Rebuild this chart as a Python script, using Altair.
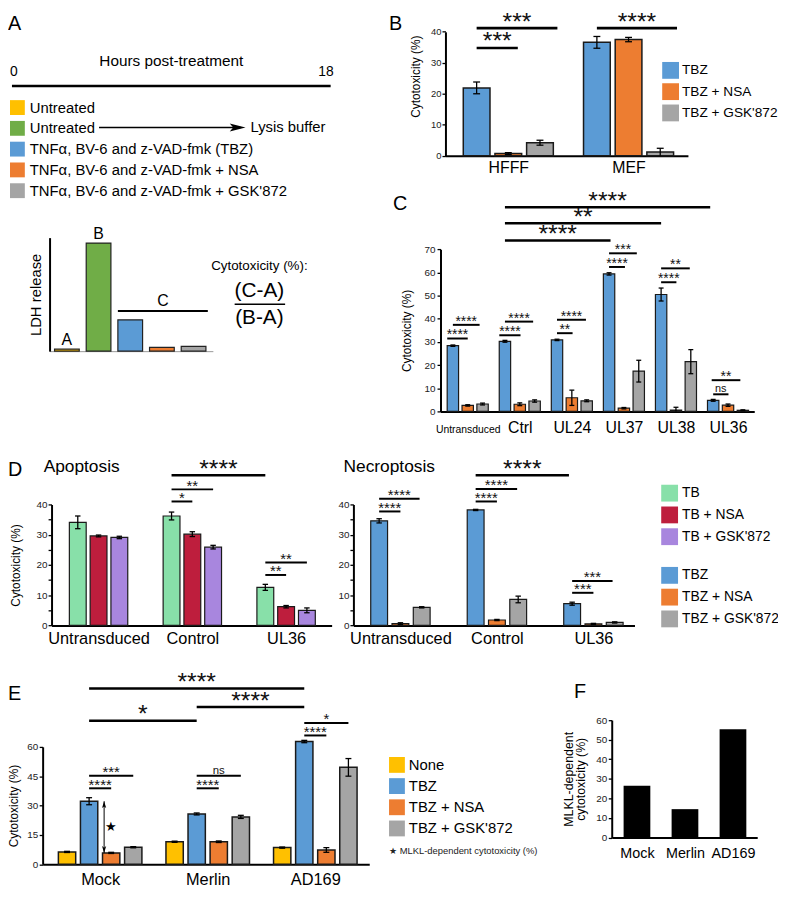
import json
import altair as alt
import pandas as pd

FONT = "Liberation Sans"
W, H = 778, 884
SY, OY = 0.9888, 3.0


def TX(v):
    return v - 8.0


def TY(v):
    return (v - OY) * SY


# ------------------------------------------------------------------ data
A_CONDITIONS = ["Untreated", "Untreated\u200b", "TNFα, BV-6 and z-VAD-fmk (TBZ)",
                "TNFα, BV-6 and z-VAD-fmk + NSA", "TNFα, BV-6 and z-VAD-fmk + GSK'872"]
A_COLORS = ["#FFC000", "#70AD47", "#5B9BD5", "#ED7D31", "#A5A5A5"]
A_LDH = [1.8, 100, 29, 3.5, 4.5]
A_BAR_LABELS = ["A", "B", "", "", ""]
A_HOURS = [0, 18]

TBZ_SERIES = ["TBZ", "TBZ + NSA", "TBZ + GSK'872"]
TBZ_COLORS = ["#5B9BD5", "#ED7D31", "#A5A5A5"]

B_GROUPS = ["HFFF", "MEF"]
B_VALUES = [[21.9, 0.7, 4.2], [36.6, 37.5, 1.2]]
B_ERRORS = [[1.9, 0.3, 0.8], [1.9, 0.7, 1.2]]
B_SIG = [(0, 0, 0, 1.3, 34.8, "***", "big"), (0, 0, 0, 2.55, 41.2, "***", "big"),
         (1, 0, 1, 2.53, 41.2, "****", "big")]

C_GROUPS = ["Untransduced", "Ctrl", "UL24", "UL37", "UL38", "UL36"]
C_VALUES = [[28.4, 2.6, 3.2], [30.3, 3.1, 4.5], [30.9, 5.9, 4.6],
            [59.4, 1.4, 17.4], [50.5, 0.6, 21.5], [4.8, 2.7, 0.5]]
C_ERRORS = [[0.3, 0.3, 0.4], [0.4, 0.6, 0.5], [0.3, 3.3, 0.4],
            [0.5, 0.3, 4.7], [2.8, 1.2, 5.2], [0.4, 0.5, 0.2]]
C_SIG = [(0, -0.38, 0, 1.0, 31.5, "****", "small"), (0, 0, 0, 1.8, 37.4, "****", "small"),
         (1, -0.38, 1, 1.05, 32.9, "****", "small"), (1, 0, 1, 1.9, 38.8, "****", "small"),
         (2, 0, 2, 1.05, 33.8, "**", "small"), (2, 0, 2, 1.95, 39.6, "****", "small"),
         (3, 0, 3, 1.07, 62.4, "****", "small"), (3, 0, 3, 1.87, 68.3, "***", "small"),
         (4, 0, 4, 1.03, 55.8, "****", "small"), (4, 0, 4, 1.93, 61.8, "**", "small"),
         (5, 0, 5, 1.03, 7.4, "ns", "ns"), (5, -0.1, 5, 1.83, 13.5, "**", "small"),
         (1, 0, 3, 0.1, 73.8, "****", "big"), (1, 0, 4, 0, 81.3, "**", "big"),
         (1, 0, 5, -0.2, 88.2, "****", "big")]

D_GROUPS = ["Untransduced", "Control", "UL36"]
TB_SERIES = ["TB", "TB + NSA", "TB + GSK'872"]
TB_COLORS = ["#88E0A9", "#BE1E3D", "#A886DE"]
DL_VALUES = [[34.1, 29.6, 29.1], [36.2, 30.2, 25.9], [12.6, 6.2, 5.0]]
DL_ERRORS = [[2.1, 0.3, 0.4], [1.3, 0.8, 0.6], [1.0, 0.4, 0.8]]
DL_SIG = [(1, 0, 1, 1, 41.0, "*", "small"), (1, 0, 1, 2, 45.0, "**", "small"),
          (1, 0, 2, 0, 49.7, "****", "big"), (2, 0, 2, 1, 16.7, "**", "small"),
          (2, 0, 2, 2, 20.8, "**", "small")]
DR_VALUES = [[34.6, 0.6, 6.0], [38.2, 1.8, 8.6], [7.2, 0.5, 1.0]]
DR_ERRORS = [[0.7, 0.3, 0.2], [0.2, 0.2, 1.1], [0.5, 0.2, 0.2]]
DR_SIG = [(0, 0, 0, 1, 37.7, "****", "small"), (0, 0, 0, 1.9, 41.9, "****", "small"),
          (1, 0, 1, 1, 41.0, "****", "small"), (1, 0, 1, 1.95, 45.1, "****", "small"),
          (1, 0, 2, -0.15, 49.7, "****", "big"), (2, 0, 2, 1, 10.8, "***", "small"),
          (2, 0, 2, 1.9, 14.7, "***", "small")]

E_GROUPS = ["Mock", "Merlin", "AD169"]
E_SERIES = ["None", "TBZ", "TBZ + NSA", "TBZ + GSK'872"]
E_COLORS = ["#FFC000", "#5B9BD5", "#ED7D31", "#A5A5A5"]
E_VALUES = [[6.3, 32.2, 5.8, 8.7], [11.5, 25.7, 11.5, 24.2], [8.5, 62.7, 7.3, 49.5]]
E_ERRORS = [[0.3, 1.8, 0.3, 0.3], [0.3, 0.5, 0.4, 0.8], [0.3, 0.6, 1.2, 4.5]]
E_SIG = [(0, 1, 0, 2, 38.8, "****", "small"), (0, 1, 0, 3, 45.2, "***", "small"),
         (1, 1, 1, 2, 38.8, "****", "small"), (1, 1, 1, 3, 45.2, "ns", "ns"),
         (2, 1, 2, 2, 65.8, "****", "small"), (2, 1, 2, 3, 72.2, "*", "small"),
         (0, 1, 1, 1, 73.3, "*", "big"), (1, 1, 2, 1, 80.3, "****", "big"),
         (0, 1, 2, 1, 89.8, "****", "big")]
E_STAR_VALUE = 19.2
E_MLKL_NOTE = "\u2605 MLKL-dependent cytotoxicity (%)"

F_GROUPS = ["Mock", "Merlin", "AD169"]
F_VALUES = [26.5, 14.5, 55.3]

DUMMY = pd.DataFrame({"d": [0]})


# ------------------------------------------------------------------ helpers
def note(text, x, y, size, align="left", baseline="alphabetic", color="black", angle=0):
    return alt.Chart(DUMMY).mark_text(text=text, fontSize=size, align=align, baseline=baseline,
                                      color=color, angle=angle).encode(
        x=alt.value(TX(x)), y=alt.value(TY(y)))


def note_rule(x1, x2, y, sw):
    return alt.Chart(DUMMY).mark_rule(color="black", strokeWidth=sw).encode(
        x=alt.value(TX(x1)), x2=alt.value(TX(x2)), y=alt.value(TY(y)))


def grouped_panel(groups, series, colors, values, errors, sig, L, legend):
    n = len(series)
    gp = L["gp"]
    bp = L["bp"] / gp
    hw = L["bw"] / 2 / gp
    cw = L["cap"] / 2 / gp

    def pos(g, s):
        return g + (s - (n - 1) / 2) * bp

    xs = alt.Scale(domain=[(L["x0"] - L["g0"]) / gp, (L["x1"] - L["g0"]) / gp],
                   range=[TX(L["x0"]), TX(L["x1"])], nice=False, zero=False)
    ys = alt.Scale(domain=[0, L["ymax"]], range=[TY(L["y0"]), TY(L["ytop"])], nice=False, zero=False)

    rows, caps = [], []
    for gi, g in enumerate(groups):
        for si, s in enumerate(series):
            v, e = values[gi][si], errors[gi][si]
            u = pos(gi, si)
            lo = max(v - e, 0)
            rows.append({"group": g, "series": s, "value": v, "lo": lo, "hi": v + e,
                         "u": u, "u0": u - hw, "u1": u + hw})
            caps.append({"c0": u - cw, "c1": u + cw, "cy": v + e})
            if v - e > 0:
                caps.append({"c0": u - cw, "c1": u + cw, "cy": lo})
    df = pd.DataFrame(rows)
    cdf = pd.DataFrame(caps)

    xaxis = alt.Axis(orient="bottom", offset=TY(L["y0"]) - H, values=list(range(len(groups))),
                     labelExpr=json.dumps(groups) + "[datum.value]", ticks=False, tickSize=0,
                     domainColor="black", domainWidth=2, labelFontSize=L["xfs"],
                     labelPadding=L["xpad"], labelBaseline=L.get("xbase", "top"),
                     labelColor="black", labelOverlap=False, labelFlush=False, labelBound=False,
                     grid=False, title=None)
    yargs = dict(orient="left", offset=-TX(L["x0"]), values=L["yticks"],
                 labelExpr=L.get("ylabexpr", "datum.label"), tickSize=L.get("ts", 3.5),
                 tickWidth=1.3, tickColor="black", domainColor="black", domainWidth=2,
                 labelFontSize=L.get("yfs", 10), labelColor="#222", labelPadding=L.get("ypad", 1.5),
                 title=L.get("ytitle"), titleFontSize=12, titleFontWeight="normal",
                 titleColor="black", titlePadding=L.get("tp", 8), grid=False,
                 labelFlush=False, labelOverlap=False)
    if "titleY" in L:
        yargs["titleY"] = TY(L["titleY"])
    yaxis = alt.Axis(**yargs)

    bars = alt.Chart(df).mark_bar(stroke="#1a1a1a", strokeWidth=L.get("bsw", 1.2)).encode(
        x=alt.X("u0:Q", scale=xs, axis=xaxis), x2="u1:Q",
        y=alt.Y("value:Q", scale=ys, axis=yaxis), y2=alt.datum(0),
        color=alt.Color("series:N", scale=alt.Scale(domain=series, range=colors), legend=legend))
    err = alt.Chart(df).mark_rule(color="black", strokeWidth=1.3).encode(
        x=alt.X("u:Q", scale=xs, axis=None), y=alt.Y("lo:Q", scale=ys, axis=None), y2="hi:Q")
    capl = alt.Chart(cdf).mark_rule(color="black", strokeWidth=1.3).encode(
        x=alt.X("c0:Q", scale=xs, axis=None), x2="c1:Q", y=alt.Y("cy:Q", scale=ys, axis=None))
    layers = [bars, err, capl]

    srows = []
    for (g1, s1, g2, s2, yv, lab, kind) in sig:
        a, b = pos(g1, s1), pos(g2, s2)
        srows.append({"x1": a, "x2": b, "xm": (a + b) / 2, "y": yv, "label": lab, "kind": kind})
    sdf = pd.DataFrame(srows)
    for kind, (lw, fs, dy) in L["sig"].items():
        sub = sdf[sdf.kind == kind]
        if sub.empty:
            continue
        layers.append(alt.Chart(sub).mark_rule(color="black", strokeWidth=lw).encode(
            x=alt.X("x1:Q", scale=xs, axis=None), x2="x2:Q", y=alt.Y("y:Q", scale=ys, axis=None)))
        layers.append(alt.Chart(sub).mark_text(fontSize=fs, dy=dy, baseline="alphabetic",
                                               color="#111").encode(
            x=alt.X("xm:Q", scale=xs, axis=None), y=alt.Y("y:Q", scale=ys, axis=None),
            text="label:N"))
    return layers, xs, ys, pos


def legend_at(x, y, sym, fs, rowpad, offset):
    return alt.Legend(orient="none", legendX=TX(x), legendY=TY(y), title=None, symbolType="square",
                      symbolSize=sym * sym, symbolStrokeWidth=0, labelFontSize=fs,
                      labelOffset=offset, rowPadding=rowpad, padding=0, labelLimit=400,
                      labelColor="black")


BIG = (2.6, 25, 1.5)
layers = []

# ------------------------------------------------------------------ Panel A
hs = alt.Scale(domain=A_HOURS, range=[TX(12), TX(334)], nice=False, zero=False)
tl = pd.DataFrame({"start": [A_HOURS[0]], "end": [A_HOURS[1]]})
layers.append(alt.Chart(tl).mark_rule(strokeWidth=2.6, color="black").encode(
    x=alt.X("start:Q", scale=hs, axis=None), x2="end:Q", y=alt.value(TY(78))))
hl = pd.DataFrame({"h": A_HOURS, "label": [str(h) for h in A_HOURS]})
layers.append(alt.Chart(hl).transform_filter(alt.datum.h == A_HOURS[0]).mark_text(
    fontSize=14, align="left", dx=-2, baseline="alphabetic").encode(
    x=alt.X("h:Q", scale=hs, axis=None), y=alt.value(TY(68)), text="label:N"))
layers.append(alt.Chart(hl).transform_filter(alt.datum.h == A_HOURS[1]).mark_text(
    fontSize=14, align="right", dx=3, baseline="alphabetic").encode(
    x=alt.X("h:Q", scale=hs, axis=None), y=alt.value(TY(68)), text="label:N"))

nA = len(A_LDH)
lx = alt.Scale(domain=[(50 - 67.5) / 32, (215 - 67.5) / 32], range=[TX(50), TX(215)], nice=False, zero=False)
ly = alt.Scale(domain=[0, 105], range=[TY(349), TY(233)], nice=False, zero=False)
adf = pd.DataFrame({"u": list(range(nA)), "ldh": A_LDH, "cond": A_CONDITIONS, "lab": A_BAR_LABELS})
adf["u0"] = adf.u - 0.39
adf["u1"] = adf.u + 0.39
layers.append(alt.Chart(adf).mark_bar(stroke="#222", strokeWidth=1.2).encode(
    x=alt.X("u0:Q", scale=lx, axis=alt.Axis(orient="bottom", offset=TY(349) - H, ticks=False, tickSize=0,
                                             labels=False, domainColor="#999", domainWidth=1,
                                             grid=False, title=None)),
    x2="u1:Q",
    y=alt.Y("ldh:Q", scale=ly, axis=alt.Axis(orient="left", offset=-TX(50), ticks=False, tickSize=0,
                                             labels=False, domainColor="black", domainWidth=2,
                                             grid=False, title="LDH release", titleFontSize=15,
                                             titleFontWeight="normal", titleColor="black",
                                             titlePadding=6)),
    y2=alt.datum(0),
    color=alt.Color("cond:N", scale=alt.Scale(domain=A_CONDITIONS, range=A_COLORS),
                    legend=legend_at(10, 92.5, 15, 15, 5.0, 5))))
layers.append(alt.Chart(adf).transform_filter("datum.lab != ''").mark_text(
    fontSize=16, dy=-4, baseline="alphabetic").encode(
    x=alt.X("u:Q", scale=lx, axis=None), y=alt.Y("ldh:Q", scale=ly, axis=None), text="lab:N"))
cb = pd.DataFrame({"x1": [2 - 0.39], "x2": [4 + 0.45], "y": [37.1], "lab": ["C"]})
cb["xm"] = (cb.x1 + cb.x2) / 2
layers.append(alt.Chart(cb).mark_rule(strokeWidth=2, color="black").encode(
    x=alt.X("x1:Q", scale=lx, axis=None), x2="x2:Q", y=alt.Y("y:Q", scale=ly, axis=None)))
layers.append(alt.Chart(cb).mark_text(fontSize=16, dy=-5.5, baseline="alphabetic").encode(
    x=alt.X("xm:Q", scale=lx, axis=None), y=alt.Y("y:Q", scale=ly, axis=None), text="lab:N"))

layers += [
    note("Hours post-treatment", 173, 58, 15.5, align="center"),
    note_rule(100, 243, 120.5, 1.5),
    note("Lysis buffer", 253, 120.5, 15, baseline="middle"),
    note("Cytotoxicity (%):", 262, 266, 13.5, align="center"),
    note("(C-A)", 262, 288, 21, align="center", baseline="middle"),
    note_rule(237, 288, 301, 1.5),
    note("(B-A)", 262, 315, 21, align="center", baseline="middle"),
]
layers.append(alt.Chart(DUMMY).mark_point(shape="M-1,-0.5L1,0L-1,0.5L-0.55,0Z", filled=True,
                                          size=256, color="black", opacity=1).encode(
    x=alt.value(TX(240)), y=alt.value(TY(120.5))))

# ------------------------------------------------------------------ Panel B
LB = dict(x0=450, x1=695, y0=149.3, ytop=22.7, ymax=40, g0=513.5, gp=121.5, bp=32, bw=27, cap=7,
          yticks=[0, 10, 20, 30, 40], yfs=9.5, ts=3.5, ypad=1, ytitle="Cytotoxicity (%)", tp=8,
          titleY=68, xfs=16, xpad=4, bsw=1.5, sig={"big": BIG})
bl, _, _, _ = grouped_panel(B_GROUPS, TBZ_SERIES, TBZ_COLORS, B_VALUES, B_ERRORS, B_SIG, LB,
                            legend_at(669, 53.5, 17, 13.8, 4.5, 3))
layers += bl

# ------------------------------------------------------------------ Panel C
LC = dict(x0=445, x1=762, y0=410.6, ytop=245, ymax=70, g0=472.5, gp=52.6, bp=15, bw=11.5, cap=5,
          yticks=list(range(0, 71, 10)), yfs=10, ts=3.5, ypad=2, ytitle="Cytotoxicity (%)", tp=11,
          xfs={"condition": {"test": "datum.value == 0", "value": 10.5}, "value": 16},
          xpad=21.5, xbase="alphabetic",
          sig={"big": BIG, "small": (2, 14, 1.0), "ns": (2, 11, -2)})
cl, _, _, _ = grouped_panel(C_GROUPS, TBZ_SERIES, TBZ_COLORS, C_VALUES, C_ERRORS, C_SIG, LC, None)
layers += cl

# ------------------------------------------------------------------ Panel D
LDL = dict(x0=52, x1=335, y0=629.3, ytop=505.7, ymax=40, g0=99.5, gp=94.75, bp=21, bw=17, cap=5.5,
           yticks=list(range(0, 41, 5)), ylabexpr="datum.value % 10 == 0 ? datum.label : ''",
           yfs=10, ts=3.5, ypad=1, ytitle="Cytotoxicity (%)", tp=14, xfs=16.5, xpad=5.5,
           sig={"big": BIG, "small": (2, 15, 1.3)})
dl, _, _, _ = grouped_panel(D_GROUPS, TB_SERIES, TB_COLORS, DL_VALUES, DL_ERRORS, DL_SIG, LDL,
                            legend_at(668, 485.5, 17, 14, 5, 4))
layers += dl
LDR = dict(LDL)
LDR.update(x0=357, x1=641, g0=404.5, gp=97.5, bp=21.5, ytitle=None)
dr, _, _, _ = grouped_panel(D_GROUPS, TBZ_SERIES, TBZ_COLORS, DR_VALUES, DR_ERRORS, DR_SIG, LDR,
                            legend_at(668, 569.5, 17, 14, 5, 4))
layers += dr

# ------------------------------------------------------------------ Panel E
LE = dict(x0=43, x1=373, y0=873.3, ytop=753.3, ymax=60, g0=101.1, gp=108.7, bp=22.3, bw=17.5, cap=6,
          yticks=[0, 15, 30, 45, 60], yfs=10, ts=3.5, ypad=1.5, ytitle="Cytotoxicity (%)", tp=6.5,
          xfs=16.5, xpad=7.5, bsw=1.5,
          sig={"big": BIG, "small": (2, 15, 1.3), "ns": (2, 11.5, -2)})
el, exs, eys, epos = grouped_panel(E_GROUPS, E_SERIES, E_COLORS, E_VALUES, E_ERRORS, E_SIG, LE,
                                   legend_at(393, 763.7, 16, 15, 5.4, 4))
layers += el
ax = epos(0, 1.68)
top_v, bot_v = E_VALUES[0][1], E_VALUES[0][2]
arr = pd.DataFrame({"u": [ax], "top": [top_v], "bot": [bot_v],
                    "htop": [top_v - 1.75], "hbot": [bot_v + 1.75]})
layers.append(alt.Chart(arr).mark_rule(color="black", strokeWidth=1).encode(
    x=alt.X("u:Q", scale=exs, axis=None), y=alt.Y("top:Q", scale=eys, axis=None), y2="bot:Q"))
layers.append(alt.Chart(arr).mark_point(shape="M0,-1L0.6,1L0,0.5L-0.6,1Z", filled=True, size=49,
                                        color="black", opacity=1).encode(
    x=alt.X("u:Q", scale=exs, axis=None), y=alt.Y("htop:Q", scale=eys, axis=None)))
layers.append(alt.Chart(arr).mark_point(shape="M0,1L0.6,-1L0,-0.5L-0.6,-1Z", filled=True, size=49,
                                        color="black", opacity=1).encode(
    x=alt.X("u:Q", scale=exs, axis=None), y=alt.Y("hbot:Q", scale=eys, axis=None)))
star = pd.DataFrame({"u": [epos(0, 2)], "v": [E_STAR_VALUE], "t": ["\u2605"]})
layers.append(alt.Chart(star).mark_text(fontSize=13, baseline="middle").encode(
    x=alt.X("u:Q", scale=exs, axis=None), y=alt.Y("v:Q", scale=eys, axis=None), text="t:N"))
layers.append(note(E_MLKL_NOTE, 393, 860, 9.5, baseline="middle", color="#222"))

# ------------------------------------------------------------------ Panel F
fgp = 48.5
fxs = alt.Scale(domain=[(618 - 643.5) / fgp, (765 - 643.5) / fgp], range=[TX(618), TX(765)],
                nice=False, zero=False)
fys = alt.Scale(domain=[0, 60], range=[TY(846), TY(726)], nice=False, zero=False)
fdf = pd.DataFrame({"g": F_GROUPS, "v": F_VALUES, "u": list(range(len(F_GROUPS)))})
fdf["u0"] = fdf.u - 13.5 / fgp
fdf["u1"] = fdf.u + 13.5 / fgp
layers.append(alt.Chart(fdf).mark_bar(color="black").encode(
    x=alt.X("u0:Q", scale=fxs, axis=alt.Axis(
        orient="bottom", offset=TY(846) - H, values=list(range(len(F_GROUPS))),
        labelExpr=json.dumps(F_GROUPS) + "[datum.value]", ticks=False, tickSize=0,
        domainColor="black", domainWidth=2, labelFontSize=14.5, labelPadding=9, labelColor="black",
        labelOverlap=False, labelFlush=False, labelBound=False, grid=False, title=None)),
    x2="u1:Q",
    y=alt.Y("v:Q", scale=fys, axis=alt.Axis(
        orient="left", offset=-TX(618), values=list(range(0, 61, 10)), tickSize=3.5, tickWidth=1.3,
        tickColor="black", domainColor="black", domainWidth=2, labelFontSize=10, labelColor="#222",
        labelPadding=1.5, title=["MLKL-dependent", "cytotoxicity (%)"], titleFontSize=12.5,
        titleLineHeight=13, titleFontWeight="normal", titleColor="black", titlePadding=8,
        grid=False, labelFlush=False, labelOverlap=False)),
    y2=alt.datum(0)))

# ------------------------------------------------------------------ panel letters & titles
for letter, x, y in [("A", 8, 21), ("B", 393, 21), ("C", 397, 205), ("D", 8, 477),
                     ("E", 8, 705), ("F", 580, 703)]:
    layers.append(note(letter, x, y, 20))
layers.append(note("Apoptosis", 44, 472.5, 17.5))
layers.append(note("Necroptosis", 347, 472.5, 17.5))

chart = alt.layer(*layers).resolve_scale(
    x="independent", y="independent", color="independent"
).resolve_axis(x="independent", y="independent").resolve_legend(color="independent").properties(
    width=W, height=H, padding=0, autosize=alt.AutoSizeParams(type="none")
).configure(font=FONT).configure_view(stroke=None)

chart.save("out.html", embed_options={"renderer": "svg", "actions": False})
